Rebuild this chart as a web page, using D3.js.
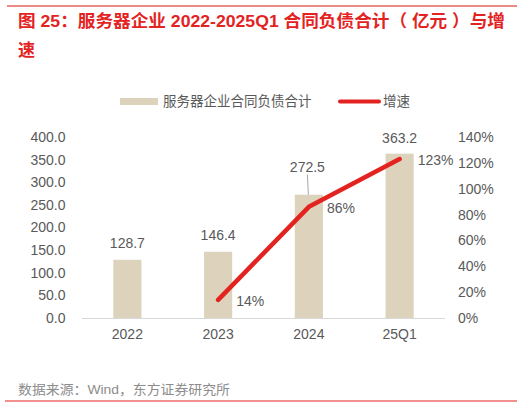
<!DOCTYPE html>
<html><head><meta charset="utf-8">
<script src="https://cdn.jsdelivr.net/npm/d3@7"></script>
<style>
html,body{margin:0;padding:0;background:#fff;}
svg{display:block;}
text{font-family:"Liberation Sans","Noto Sans CJK SC",Arial,sans-serif;}
.cjk{font-family:"Noto Sans CJK SC","Liberation Sans",sans-serif;}
.mix{font-family:"Liberation Sans","Noto Sans CJK SC",sans-serif;}
</style></head>
<body>
<script>
const categories = ["2022","2023","2024","25Q1"];
const liabilities = [128.7,146.4,272.5,363.2];
const growth = [null,14,86,123];
const growthLabels = ["","14%","86%","123%"];
const leftTicks = [0,50,100,150,200,250,300,350,400];
const rightTicks = [0,20,40,60,80,100,120,140];

const W=523,H=415;
const svg=d3.select("body").append("svg").attr("width",W).attr("height",H);

const red="#e3231f", gray="#595959", barColor="#ddd3bc";
const numFont="Liberation Sans, Arial, sans-serif";

// top & bottom rules
svg.append("line").attr("x1",7).attr("x2",517).attr("y1",6).attr("y2",6).attr("stroke","#ee8a86").attr("stroke-width",2);
svg.append("line").attr("x1",5).attr("x2",517).attr("y1",401).attr("y2",401).attr("stroke","#e3231f").attr("stroke-width",1);

// title
svg.append("text").attr("class","mix").attr("x",18).attr("y",27).attr("fill",red).attr("font-weight","bold").attr("font-size",17)
  .attr("textLength",487).attr("lengthAdjust","spacingAndGlyphs")
  .text("图 25：服务器企业 2022-2025Q1 合同负债合计（ 亿元 ）与增");
svg.append("text").attr("class","cjk").attr("x",18).attr("y",56).attr("fill",red).attr("font-weight","bold").attr("font-size",17).text("速");

// legend
svg.append("rect").attr("x",120).attr("y",98).attr("width",38).attr("height",7).attr("fill",barColor);
svg.append("text").attr("class","cjk").attr("x",163).attr("y",106).attr("fill",gray).attr("font-size",13.5).text("服务器企业合同负债合计");
svg.append("line").attr("x1",340).attr("x2",379).attr("y1",101.5).attr("y2",101.5).attr("stroke",red).attr("stroke-width",4).attr("stroke-linecap","round");
svg.append("text").attr("class","cjk").attr("x",383).attr("y",106).attr("fill",gray).attr("font-size",13.5).text("增速");

// scales
const x=d3.scaleBand().domain(categories).range([82,445]).paddingInner(0.69).paddingOuter(0.345);
const yL=d3.scaleLinear().domain([0,400]).range([318,137]);
const yR=d3.scaleLinear().domain([0,140]).range([318,137]);

// axes
const gl=svg.append("g").attr("transform","translate(70,0)")
  .call(d3.axisLeft(yL).tickValues(leftTicks).tickFormat(d3.format(".1f")).tickSize(0).tickPadding(4.5));
gl.select(".domain").remove();
gl.selectAll("text").attr("fill",gray).attr("font-size",14).attr("font-family",numFont);

const gr=svg.append("g").attr("transform","translate(455,0)")
  .call(d3.axisRight(yR).tickValues(rightTicks).tickFormat(d=>d+"%").tickSize(0).tickPadding(3));
gr.select(".domain").remove();
gr.selectAll("text").attr("fill",gray).attr("font-size",14).attr("font-family",numFont);

// bars
svg.selectAll("rect.bar").data(categories).enter().append("rect").attr("class","bar")
  .attr("x",d=>x(d)).attr("width",x.bandwidth())
  .attr("y",(d,i)=>yL(liabilities[i])).attr("height",(d,i)=>yL(0)-yL(liabilities[i]))
  .attr("fill",barColor);

// baseline
svg.append("line").attr("x1",82).attr("x2",445).attr("y1",318.5).attr("y2",318.5).attr("stroke","#d9d9d9").attr("stroke-width",1.2);

const gx=svg.append("g").attr("transform","translate(0,318)")
  .call(d3.axisBottom(x).tickSize(0).tickPadding(11));
gx.select(".domain").remove();
gx.selectAll("text").attr("fill",gray).attr("font-size",14).attr("font-family",numFont);

// bar labels
const cx=d=>x(d)+x.bandwidth()/2;
const barLabelDy=[-12,-12,-23,-11];
svg.selectAll("text.bl").data(categories).enter().append("text").attr("class","bl")
  .attr("x",(d,i)=>cx(d)-(i===2?1.5:0)).attr("y",(d,i)=>yL(liabilities[i])+barLabelDy[i])
  .attr("text-anchor","middle").attr("fill",gray).attr("font-size",14).attr("font-family",numFont)
  .text((d,i)=>liabilities[i].toFixed(1));
// leader line for 2024
svg.append("line").attr("x1",cx("2024")-0.5).attr("x2",cx("2024")-1.5)
  .attr("y1",yL(liabilities[2])).attr("y2",yL(liabilities[2])-20).attr("stroke","#a6a6a6").attr("stroke-width",1);

// growth line
const pts=categories.map((c,i)=>({c,v:growth[i],l:growthLabels[i]})).filter(d=>d.v!=null);
svg.append("path").datum(pts).attr("fill","none").attr("stroke",red).attr("stroke-width",4.5)
  .attr("stroke-linecap","round").attr("stroke-linejoin","round")
  .attr("d",d3.line().x(d=>cx(d.c)).y(d=>yR(d.v)));
svg.selectAll("text.gl").data(pts).enter().append("text").attr("class","gl")
  .attr("x",d=>cx(d.c)+18).attr("y",d=>yR(d.v)+6)
  .attr("fill",gray).attr("font-size",14).attr("font-family",numFont).text(d=>d.l);

// source
svg.append("text").attr("class","mix").attr("x",18).attr("y",394).attr("fill","#8c8c8c").attr("font-size",13)
  .attr("textLength",212).attr("lengthAdjust","spacingAndGlyphs")
  .text("数据来源：Wind，东方证券研究所");
</script>
</body></html>
